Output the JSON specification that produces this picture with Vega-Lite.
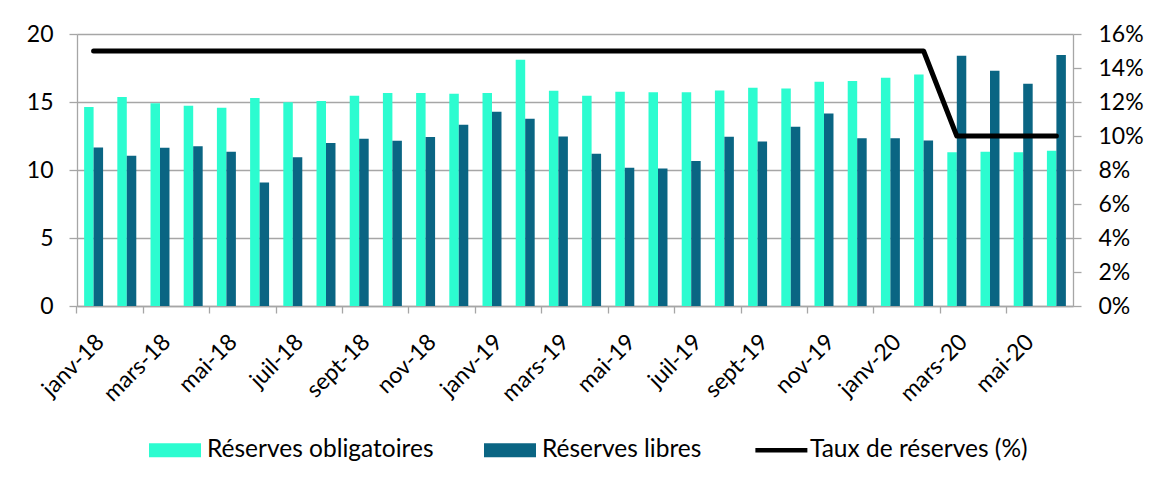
{
  "$schema": "https://vega.github.io/schema/vega-lite/v6.json",
  "autosize": {"type": "none"},
  "width": 996,
  "height": 272,
  "padding": {"left": 77, "top": 34, "right": 80, "bottom": 180},
  "background": "white",
  "config": {
    "font": "Lato",
    "view": {"stroke": null},
    "axis": {"labelFont": "Lato", "labelFontSize": 23, "labelColor": "#000000", "domainColor": "#a6a6a6", "tickColor": "#a6a6a6", "gridColor": "#a6a6a6", "domainWidth": 1.3, "tickWidth": 1.3, "gridWidth": 1.3},
    "legend": {"labelFont": "Lato"}
  },
  "datasets": {
    "reserves": [
      {"mois": "janv-18", "serie": "Réserves obligatoires", "valeur": 14.63},
      {"mois": "janv-18", "serie": "Réserves libres", "valeur": 11.66},
      {"mois": "févr-18", "serie": "Réserves obligatoires", "valeur": 15.36},
      {"mois": "févr-18", "serie": "Réserves libres", "valeur": 11.04},
      {"mois": "mars-18", "serie": "Réserves obligatoires", "valeur": 14.90},
      {"mois": "mars-18", "serie": "Réserves libres", "valeur": 11.63},
      {"mois": "avr-18", "serie": "Réserves obligatoires", "valeur": 14.72},
      {"mois": "avr-18", "serie": "Réserves libres", "valeur": 11.75},
      {"mois": "mai-18", "serie": "Réserves obligatoires", "valeur": 14.58},
      {"mois": "mai-18", "serie": "Réserves libres", "valeur": 11.34},
      {"mois": "juin-18", "serie": "Réserves obligatoires", "valeur": 15.29},
      {"mois": "juin-18", "serie": "Réserves libres", "valeur": 9.08},
      {"mois": "juil-18", "serie": "Réserves obligatoires", "valeur": 14.99},
      {"mois": "juil-18", "serie": "Réserves libres", "valeur": 10.94},
      {"mois": "août-18", "serie": "Réserves obligatoires", "valeur": 15.07},
      {"mois": "août-18", "serie": "Réserves libres", "valeur": 11.98},
      {"mois": "sept-18", "serie": "Réserves obligatoires", "valeur": 15.46},
      {"mois": "sept-18", "serie": "Réserves libres", "valeur": 12.29},
      {"mois": "oct-18", "serie": "Réserves obligatoires", "valeur": 15.66},
      {"mois": "oct-18", "serie": "Réserves libres", "valeur": 12.15},
      {"mois": "nov-18", "serie": "Réserves obligatoires", "valeur": 15.66},
      {"mois": "nov-18", "serie": "Réserves libres", "valeur": 12.42},
      {"mois": "déc-18", "serie": "Réserves obligatoires", "valeur": 15.61},
      {"mois": "déc-18", "serie": "Réserves libres", "valeur": 13.33},
      {"mois": "janv-19", "serie": "Réserves obligatoires", "valeur": 15.66},
      {"mois": "janv-19", "serie": "Réserves libres", "valeur": 14.28},
      {"mois": "févr-19", "serie": "Réserves obligatoires", "valeur": 18.11},
      {"mois": "févr-19", "serie": "Réserves libres", "valeur": 13.77},
      {"mois": "mars-19", "serie": "Réserves obligatoires", "valeur": 15.83},
      {"mois": "mars-19", "serie": "Réserves libres", "valeur": 12.47},
      {"mois": "avr-19", "serie": "Réserves obligatoires", "valeur": 15.46},
      {"mois": "avr-19", "serie": "Réserves libres", "valeur": 11.19},
      {"mois": "mai-19", "serie": "Réserves obligatoires", "valeur": 15.75},
      {"mois": "mai-19", "serie": "Réserves libres", "valeur": 10.16},
      {"mois": "juin-19", "serie": "Réserves obligatoires", "valeur": 15.71},
      {"mois": "juin-19", "serie": "Réserves libres", "valeur": 10.11},
      {"mois": "juil-19", "serie": "Réserves obligatoires", "valeur": 15.71},
      {"mois": "juil-19", "serie": "Réserves libres", "valeur": 10.67},
      {"mois": "août-19", "serie": "Réserves obligatoires", "valeur": 15.85},
      {"mois": "août-19", "serie": "Réserves libres", "valeur": 12.44},
      {"mois": "sept-19", "serie": "Réserves obligatoires", "valeur": 16.05},
      {"mois": "sept-19", "serie": "Réserves libres", "valeur": 12.10},
      {"mois": "oct-19", "serie": "Réserves obligatoires", "valeur": 16.00},
      {"mois": "oct-19", "serie": "Réserves libres", "valeur": 13.18},
      {"mois": "nov-19", "serie": "Réserves obligatoires", "valeur": 16.49},
      {"mois": "nov-19", "serie": "Réserves libres", "valeur": 14.16},
      {"mois": "déc-19", "serie": "Réserves obligatoires", "valeur": 16.54},
      {"mois": "déc-19", "serie": "Réserves libres", "valeur": 12.34},
      {"mois": "janv-20", "serie": "Réserves obligatoires", "valeur": 16.79},
      {"mois": "janv-20", "serie": "Réserves libres", "valeur": 12.34},
      {"mois": "févr-20", "serie": "Réserves obligatoires", "valeur": 17.03},
      {"mois": "févr-20", "serie": "Réserves libres", "valeur": 12.17},
      {"mois": "mars-20", "serie": "Réserves obligatoires", "valeur": 11.31},
      {"mois": "mars-20", "serie": "Réserves libres", "valeur": 18.40},
      {"mois": "avr-20", "serie": "Réserves obligatoires", "valeur": 11.34},
      {"mois": "avr-20", "serie": "Réserves libres", "valeur": 17.30},
      {"mois": "mai-20", "serie": "Réserves obligatoires", "valeur": 11.31},
      {"mois": "mai-20", "serie": "Réserves libres", "valeur": 16.34},
      {"mois": "juin-20", "serie": "Réserves obligatoires", "valeur": 11.41},
      {"mois": "juin-20", "serie": "Réserves libres", "valeur": 18.45}
    ],
    "taux": [
      {"mois": "janv-18", "taux": 15}, {"mois": "févr-18", "taux": 15}, {"mois": "mars-18", "taux": 15},
      {"mois": "avr-18", "taux": 15}, {"mois": "mai-18", "taux": 15}, {"mois": "juin-18", "taux": 15},
      {"mois": "juil-18", "taux": 15}, {"mois": "août-18", "taux": 15}, {"mois": "sept-18", "taux": 15},
      {"mois": "oct-18", "taux": 15}, {"mois": "nov-18", "taux": 15}, {"mois": "déc-18", "taux": 15},
      {"mois": "janv-19", "taux": 15}, {"mois": "févr-19", "taux": 15}, {"mois": "mars-19", "taux": 15},
      {"mois": "avr-19", "taux": 15}, {"mois": "mai-19", "taux": 15}, {"mois": "juin-19", "taux": 15},
      {"mois": "juil-19", "taux": 15}, {"mois": "août-19", "taux": 15}, {"mois": "sept-19", "taux": 15},
      {"mois": "oct-19", "taux": 15}, {"mois": "nov-19", "taux": 15}, {"mois": "déc-19", "taux": 15},
      {"mois": "janv-20", "taux": 15}, {"mois": "févr-20", "taux": 15}, {"mois": "mars-20", "taux": 10},
      {"mois": "avr-20", "taux": 10}, {"mois": "mai-20", "taux": 10}, {"mois": "juin-20", "taux": 10}
    ]
  },
  "layer": [
    {
      "data": {"name": "reserves"},
      "mark": {"type": "bar"},
      "encoding": {
        "x": {
          "field": "mois", "type": "nominal", "title": null,
          "scale": {
            "domain": ["janv-18","févr-18","mars-18","avr-18","mai-18","juin-18","juil-18","août-18","sept-18","oct-18","nov-18","déc-18","janv-19","févr-19","mars-19","avr-19","mai-19","juin-19","juil-19","août-19","sept-19","oct-19","nov-19","déc-19","janv-20","févr-20","mars-20","avr-20","mai-20","juin-20"],
            "paddingInner": 0, "paddingOuter": 0
          },
          "axis": {
            "labelExpr": "indexof(['janv-18','mars-18','mai-18','juil-18','sept-18','nov-18','janv-19','mars-19','mai-19','juil-19','sept-19','nov-19','janv-20','mars-20','mai-20'], datum.value) >= 0 ? datum.value : ''",
            "tickOpacity": {"condition": {"test": "indexof(['janv-18','mars-18','mai-18','juil-18','sept-18','nov-18','janv-19','mars-19','mai-19','juil-19','sept-19','nov-19','janv-20','mars-20','mai-20'], datum.value) >= 0", "value": 1}, "value": 0},
            "bandPosition": 0, "labelOffset": 7, "labelAngle": -45, "labelAlign": "right", "labelBaseline": "middle",
            "labelPadding": 25, "tickSize": 7, "labelOverlap": false, "labelFlush": false, "labelBound": false, "grid": false
          }
        },
        "xOffset": {
          "field": "serie", "type": "nominal",
          "scale": {"domain": ["Réserves obligatoires", "Réserves libres"], "paddingInner": 0, "paddingOuter": 0.75}
        },
        "y": {
          "field": "valeur", "type": "quantitative", "title": null,
          "scale": {"domain": [0, 20], "nice": false},
          "axis": {"values": [0, 5, 10, 15, 20], "grid": true, "tickSize": 8, "labelPadding": 16}
        },
        "color": {
          "field": "serie", "type": "nominal",
          "scale": {
            "domain": ["Réserves obligatoires", "Réserves libres", "Taux de réserves (%)"],
            "range": ["#2cfcd0", "#0a6583", "#000000"]
          },
          "legend": {
            "orient": "none", "legendX": 72, "legendY": 390, "direction": "horizontal", "title": null,
            "symbolSize": 2704, "symbolType": "M-1,-0.27L1,-0.27L1,0.27L-1,0.27Z",
            "labelFontSize": 24.5, "labelColor": "#000000", "labelOffset": 6, "columnPadding": 50,
            "symbolStrokeWidth": 0, "labelLimit": 400,
            "encode": {
              "symbols": {
                "update": {
                  "shape": {"signal": "datum.value === 'Taux de réserves (%)' ? 'M-0.87,-0.09L1.13,-0.09L1.13,0.09L-0.87,0.09Z' : 'M-1,-0.27L1,-0.27L1,0.27L-1,0.27Z'"},
                  "fill": {"scale": "color", "field": "value"},
                  "opacity": {"value": 1},
                  "strokeWidth": {"value": 0}
                }
              }
            }
          }
        }
      }
    },
    {
      "data": {"name": "taux"},
      "mark": {"type": "line", "strokeWidth": 5, "strokeCap": "round", "strokeJoin": "round"},
      "encoding": {
        "x": {"field": "mois", "type": "nominal"},
        "y": {
          "field": "taux", "type": "quantitative", "title": null,
          "scale": {"domain": [0, 16], "nice": false},
          "axis": {"orient": "right", "values": [0, 2, 4, 6, 8, 10, 12, 14, 16], "labelExpr": "datum.value + '%'", "grid": false, "tickSize": 8, "labelPadding": 17}
        },
        "color": {"datum": "Taux de réserves (%)"}
      }
    }
  ],
  "resolve": {"scale": {"y": "independent"}}
}
